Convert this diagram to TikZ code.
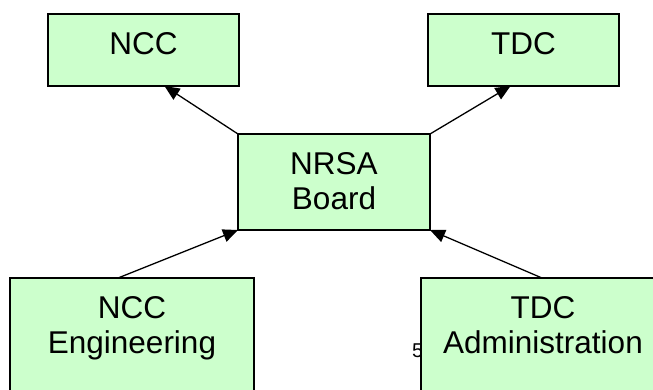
\documentclass[tikz,border=0pt]{standalone}
\usepackage{fontspec}
\setmainfont{Liberation Sans}
\usepackage{xcolor}
\usepackage{tikz}
\usetikzlibrary{arrows.meta, positioning}
\definecolor{unitgreen}{RGB}{204, 255, 204}

\begin{document}
\begin{tikzpicture}[
      x=1pt, y=-1pt,
      unit/.style={draw=black, fill=unitgreen, line width=1.2pt,
                   inner sep=0pt, outer sep=0pt},
      unitname/.style={anchor=north, inner sep=0pt, yshift=-18.5pt,
                       align=center, font=\fontsize{31.5}{35}\selectfont},
      link/.style={-{Triangle[length=15pt, width=13pt]}, line width=1.3pt}
    ]
    \useasboundingbox (0,0) rectangle (653,389);
    \node[anchor=base west, inner sep=0pt,
          font=\fontsize{20}{24}\selectfont] (pagenum) at (412,357) {5};
    \node[unit, minimum width=191pt, minimum height=72pt,
          label={[unitname]north:NCC}] (ncc) at (143.5,50) {};
    \node[unit, minimum width=191pt, minimum height=72pt,
          label={[unitname]north:TDC}] (tdc) at (523.5,50) {};
    \node[unit, minimum width=192pt, minimum height=96pt,
          label={[unitname]north:NRSA\\Board}] (nrsa) at (334,182) {};
    \node[unit, minimum width=244pt, minimum height=150pt,
          label={[unitname]north:NCC\\Engineering}] (ncceng) at (132,353) {};
    \node[unit, minimum width=244pt, minimum height=150pt,
          label={[unitname]north:TDC\\Administration}] (tdcadm) at (543,353) {};
    \draw[link] (nrsa.north west) -- ([xshift=21pt]ncc.south);
    \draw[link] (nrsa.north east) -- ([xshift=-13pt]tdc.south);
    \draw[link] ([xshift=-14pt]ncceng.north) -- (nrsa.south west);
    \draw[link] ([xshift=-1pt]tdcadm.north) -- (nrsa.south east);
  \end{tikzpicture}
\end{document}
